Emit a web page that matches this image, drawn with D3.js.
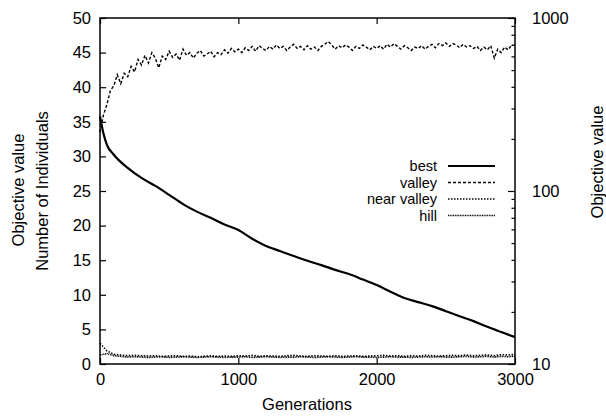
<!DOCTYPE html>
<html><head><meta charset="utf-8">
<script src="https://cdn.jsdelivr.net/npm/d3@7"></script>
<style>
body{margin:0;background:#fff;}
svg text{font-family:"Liberation Sans",Arial,Helvetica,sans-serif;fill:#000;}
</style></head>
<body><svg id="c" width="606" height="417"></svg>
<script>
// ---- data ----
const xTicks = [0, 1000, 2000, 3000];
const yLeftTicks = [0, 5, 10, 15, 20, 25, 30, 35, 40, 45, 50];
const yRightTicks = [10, 100, 1000];
const legendLabels = ["best", "valley", "near valley", "hill"];

const bestGen = [0,10,25,50,100,200,300,400,500,600,700,800,900,1000,1100,1200,1300,1400,1500,1600,1700,1800,1900,2000,2100,2200,2300,2400,2500,2600,2700,2800,2900,3000];
const bestVal = [270,245,215,185,162,136,119,107,95,84,76,70,64,59.5,53,48.1,45,42.1,39.5,37.3,35,33.1,30.8,28.6,26.2,24.1,22.8,21.6,20.2,18.9,17.7,16.4,15.3,14.3];

const valleyVal = [33.5,36.0,37.5,39.5,40.2,41.8,40.5,42.0,41.5,43.0,42.2,44.0,43.2,44.6,43.5,45.0,44.2,42.8,44.5,44.0,
45.2,44.3,44.8,43.9,45.5,44.6,45.0,44.2,44.9,45.3,44.5,44.8,45.2,44.4,45.0,44.7,45.4,44.9,45.6,45.1,
45.5,45.0,45.7,45.3,45.9,45.2,46.0,45.6,45.3,45.9,45.5,46.1,45.6,45.9,45.3,45.8,46.2,45.6,45.9,45.4,
46.0,45.5,45.8,45.3,45.9,46.2,46.6,46.1,45.5,46.0,45.7,46.1,45.8,45.3,45.9,45.6,46.1,45.8,45.4,45.9,
45.6,46.0,45.5,46.2,45.8,46.3,45.9,45.5,46.0,45.7,45.3,45.8,45.6,46.0,45.5,45.9,46.2,45.7,46.3,46.0,
46.4,45.9,46.3,46.1,45.7,46.2,45.8,46.0,45.6,45.9,45.3,45.8,45.4,46.0,44.2,45.5,45.0,45.8,45.4,46.1,46.0];

const nearValleyVal = [3.0,1.9,1.4,1.3,1.2,1.25,1.2,1.15,1.2,1.1,1.15,1.2,1.1,1.15,1.05,1.1,1.2,1.1,1.15,1.1,
1.2,1.15,1.25,1.1,1.2,1.15,1.1,1.2,1.25,1.15,1.1,1.2,1.15,1.1,1.2,1.1,1.15,1.2,1.1,1.15,
1.2,1.25,1.15,1.2,1.1,1.2,1.15,1.25,1.2,1.15,1.2,1.25,1.2,1.3,1.2,1.25,1.3,1.2,1.35,1.3,1.4];

const hillVal = [1.3,1.5,1.2,1.1,1.0,1.05,1.0,0.95,1.0,1.05,0.95,1.0,1.05,1.0,0.95,1.0,1.05,1.0,0.95,1.0,
1.0,1.05,0.95,1.0,1.05,1.0,0.95,1.0,1.0,1.05,1.0,0.95,1.0,1.05,1.0,0.95,1.0,1.05,1.0,1.0,
0.95,1.0,1.05,1.0,1.0,0.95,1.0,1.05,1.0,1.05,1.0,1.0,1.05,1.1,1.0,1.05,1.1,1.0,1.1,1.05,1.15];

// ---- layout ----
const L = 100, R = 515, T = 18, B = 364;
const svg = d3.select("#c");
const x = d3.scaleLinear().domain([0, 3000]).range([L, R]);
const yL = d3.scaleLinear().domain([0, 50]).range([B, T]);
const yR = d3.scaleLog().domain([10, 1000]).range([B, T]);

const fs = 16.5;
function styleAxis(g){
  g.select(".domain").remove();
  g.selectAll("line").attr("stroke","#000").attr("stroke-width",1.2);
  g.selectAll("text").attr("font-size",fs).attr("font-family",'"Liberation Sans",Arial,sans-serif');
}
svg.append("g").attr("transform",`translate(${L},0)`)
  .call(d3.axisLeft(yL).tickValues(yLeftTicks).tickSizeInner(-6).tickSizeOuter(0).tickPadding(9))
  .call(styleAxis);
svg.append("g").attr("transform",`translate(0,${B})`)
  .call(d3.axisBottom(x).tickValues(xTicks).tickFormat(d3.format("d")).tickSizeInner(-6).tickSizeOuter(0).tickPadding(9))
  .call(styleAxis);
svg.append("g").attr("transform",`translate(0,${T})`)
  .call(d3.axisTop(x).tickValues(xTicks).tickFormat("").tickSizeInner(-6).tickSizeOuter(0))
  .call(styleAxis);
svg.append("g").attr("transform",`translate(${R},0)`)
  .call(d3.axisRight(yR).tickValues(yRightTicks).tickFormat(d3.format("d")).tickSizeInner(-7).tickSizeOuter(0).tickPadding(17))
  .call(styleAxis);
const minor = [];
[10,100].forEach(d=>{for(let k=2;k<=9;k++) minor.push(d*k);});
svg.append("g").attr("transform",`translate(${R},0)`)
  .call(d3.axisRight(yR).tickValues(minor).tickFormat("").tickSizeInner(-3.5).tickSizeOuter(0))
  .call(styleAxis);

svg.append("rect").attr("x",L).attr("y",T).attr("width",R-L).attr("height",B-T)
  .attr("fill","none").attr("stroke","#000").attr("stroke-width",1.5);

// ---- lines ----
const stepOf = a => 3000/(a.length-1);
const lineL = d3.line().x(d=>x(d[0])).y(d=>yL(d[1]));
const lineR = d3.line().x(d=>x(d[0])).y(d=>yR(d[1])).curve(d3.curveMonotoneX);
const valleyPts = valleyVal.map((v,i)=>[i*stepOf(valleyVal), v]);
const nearPts = nearValleyVal.map((v,i)=>[i*stepOf(nearValleyVal), v]);
const hillPts = hillVal.map((v,i)=>[i*stepOf(hillVal), v]);
const bestPts = bestGen.map((g,i)=>[g, bestVal[i]]);

const styles = [
  {w:2.2, dash:null},
  {w:1.4, dash:"3,2"},
  {w:1.6, dash:"1.5,1.5"},
  {w:1.6, dash:"1,0.7"}
];
svg.append("path").attr("d",lineL(hillPts)).attr("fill","none").attr("stroke","#000")
  .attr("stroke-width",styles[3].w).attr("stroke-dasharray",styles[3].dash);
svg.append("path").attr("d",lineL(nearPts)).attr("fill","none").attr("stroke","#000")
  .attr("stroke-width",styles[2].w).attr("stroke-dasharray",styles[2].dash);
svg.append("path").attr("d",lineL(valleyPts)).attr("fill","none").attr("stroke","#000")
  .attr("stroke-width",styles[1].w).attr("stroke-dasharray",styles[1].dash);
svg.append("path").attr("d",lineR(bestPts)).attr("fill","none").attr("stroke","#000")
  .attr("stroke-width",styles[0].w);

// ---- legend ----
const lg = svg.append("g");
const lfs = 14.5;
legendLabels.forEach((lab,i)=>{
  const yy = 166 + i*16.5;
  lg.append("text").attr("x",437).attr("y",yy).attr("dy","0.35em").attr("text-anchor","end")
    .attr("font-size",lfs).text(lab);
  lg.append("line").attr("x1",448).attr("x2",495).attr("y1",yy).attr("y2",yy)
    .attr("stroke","#000").attr("stroke-width",styles[i].w).attr("stroke-dasharray",styles[i].dash);
});

// ---- axis titles ----
svg.append("text").attr("x",307).attr("y",404).attr("dy","0.35em").attr("text-anchor","middle")
  .attr("font-size",fs).text("Generations");
svg.append("text").attr("transform","translate(18,190) rotate(-90)").attr("dy","0.35em")
  .attr("text-anchor","middle").attr("font-size",fs).text("Objective value");
svg.append("text").attr("transform","translate(42,191) rotate(-90)").attr("dy","0.35em")
  .attr("text-anchor","middle").attr("font-size",fs).text("Number of Individuals");
svg.append("text").attr("transform","translate(597,162) rotate(-90)").attr("dy","0.35em")
  .attr("text-anchor","middle").attr("font-size",fs).text("Objective value");
</script></body></html>
